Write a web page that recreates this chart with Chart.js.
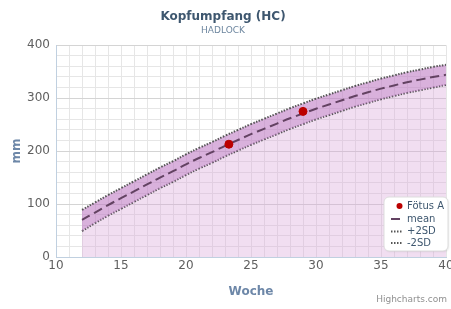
<!DOCTYPE html>
<html>
<head>
<meta charset="utf-8">
<script src="https://cdn.jsdelivr.net/npm/chart.js@4"></script>
<style>
  body { margin: 0; background: #fff; }
  #wrap { width: 451px; height: 309px; }
</style>
</head>
<body>
<div id="wrap"><canvas id="hc"></canvas></div>
<script>
// Hadlock head circumference, weeks 12-40
const weeks = [12, 13, 14, 15, 16, 17, 18, 19, 20, 21, 22, 23, 24, 25, 26, 27, 28, 29, 30, 31, 32, 33, 34, 35, 36, 37, 38, 39, 40];
const mean = [70, 84, 98, 111, 124, 137, 150, 162, 175, 187, 198, 210, 221, 232, 242, 252, 262, 271, 280, 288, 296, 304, 311, 318, 324, 330, 335, 340, 344];
const plus2sd = [89, 103, 117, 130, 143, 156, 169, 181, 194, 206, 217, 229, 240, 251, 261, 271, 281, 290, 299, 307, 315, 323, 330, 337, 343, 349, 354, 359, 363];
const minus2sd = [49, 64, 78, 91, 104, 117, 130, 142, 155, 167, 178, 190, 201, 212, 222, 232, 242, 251, 260, 268, 276, 284, 291, 298, 304, 310, 315, 320, 325];
const fetusWeeks = [23.3, 29];
const fetusHC = [213, 275];
const yTicks = [0, 100, 200, 300, 400];
const xTicks = [10, 15, 20, 25, 30, 35, 40];

const FONT = "'DejaVu Sans', Verdana, sans-serif";

function pairs(xs, ys) {
  return xs.map(function (x, i) { return { x: x, y: ys[i] }; });
}

// legend box drawn inside the plot, bottom right
const boxLegend = {
  id: "boxLegend",
  afterDraw(chart) {
    const ctx = chart.ctx;
    const x = 384, y = 197, w = 64, h = 54;
    ctx.save();
    ctx.shadowColor = "rgba(0,0,0,0.10)";
    ctx.shadowBlur = 2;
    ctx.shadowOffsetX = 1;
    ctx.shadowOffsetY = 1;
    ctx.fillStyle = "#ffffff";
    ctx.beginPath();
    ctx.roundRect(x, y, w, h, 5);
    ctx.fill();
    ctx.shadowColor = "transparent";
    ctx.strokeStyle = "#dddddd";
    ctx.lineWidth = 1;
    ctx.stroke();

    ctx.font = "10px " + FONT;
    ctx.textBaseline = "middle";
    const rows = [206, 219, 231.5, 243];
    chart.data.datasets.forEach(function (ds, i) {
      const ry = rows[i];
      if (i === 0) {
        ctx.fillStyle = ds.backgroundColor;
        ctx.beginPath();
        ctx.arc(399.5, ry, 3, 0, Math.PI * 2);
        ctx.fill();
      } else {
        ctx.strokeStyle = ds.borderColor;
        ctx.lineWidth = ds.borderWidth;
        ctx.setLineDash(ds.borderDash);
        ctx.beginPath();
        ctx.moveTo(391, ry);
        ctx.lineTo(402, ry);
        ctx.stroke();
        ctx.setLineDash([]);
      }
      ctx.fillStyle = "#3e576f";
      ctx.fillText(ds.label, 407, ry);
    });

    // credits
    ctx.font = "9px " + FONT;
    ctx.fillStyle = "#909090";
    ctx.textAlign = "right";
    ctx.fillText("Highcharts.com", 447, 300);
    ctx.restore();
  }
};

new Chart(document.getElementById("hc"), {
  type: "scatter",
  data: {
    datasets: [
      {
        label: "Fötus A",
        data: pairs(fetusWeeks, fetusHC),
        backgroundColor: "#bb0000",
        borderColor: "#bb0000",
        pointRadius: 4,
        order: 0,
      },
      {
        label: "mean",
        type: "line",
        data: pairs(weeks, mean),
        borderColor: "#634262",
        borderWidth: 2,
        borderDash: [9, 5],
        pointRadius: 0,
        fill: false,
        tension: 0.4,
        order: 1,
      },
      {
        label: "+2SD",
        type: "line",
        data: pairs(weeks, plus2sd),
        borderColor: "#555555",
        borderWidth: 2,
        borderDash: [1.5, 1.5],
        pointRadius: 0,
        fill: { target: 3 },
        backgroundColor: "rgba(190,120,195,0.58)",
        tension: 0.4,
        order: 2,
      },
      {
        label: "-2SD",
        type: "line",
        data: pairs(weeks, minus2sd),
        borderColor: "#555555",
        borderWidth: 2,
        borderDash: [1.5, 1.5],
        pointRadius: 0,
        fill: "origin",
        backgroundColor: "rgba(214,160,214,0.35)",
        tension: 0.4,
        order: 3,
      },
    ],
  },
  options: {
    responsive: true,
    maintainAspectRatio: false,
    animation: false,
    layout: { padding: { left: 0, right: 5, top: 0, bottom: 0 } },
    plugins: {
      legend: { display: false },
      tooltip: { enabled: false },
      title: {
        display: true,
        text: "Kopfumpfang (HC)",
        color: "#3e576f",
        font: { family: FONT, size: 12, weight: "bold" },
        padding: { top: 10, bottom: 0 },
      },
      subtitle: {
        display: true,
        text: "HADLOCK",
        color: "#6d869f",
        font: { family: FONT, size: 9 },
        padding: { top: 1, bottom: 9 },
      },
    },
    scales: {
      x: {
        type: "linear",
        min: 10,
        max: 40,
        ticks: {
          stepSize: 1,
          autoSkip: false,
          maxRotation: 0,
          color: "#606060",
          font: { family: FONT, size: 12 },
          padding: 2,
          callback: function (v) { return xTicks.includes(v) ? v : ""; },
        },
        grid: { color: "#e6e6e6", drawTicks: false },
        border: { color: "#c0d0e0" },
        title: {
          display: true,
          text: "Woche",
          color: "#6d87a8",
          font: { family: FONT, size: 12, weight: "bold" },
          padding: { top: 12, bottom: 10 },
        },
        afterFit: function (s) {
          s.height = 52;
          s.paddingLeft = 0;
          s.paddingRight = 0;
        },
      },
      y: {
        min: 0,
        max: 400,
        ticks: {
          stepSize: 20,
          autoSkip: false,
          color: "#606060",
          font: { family: FONT, size: 12 },
          padding: 6,
          callback: function (v) { return yTicks.includes(v) ? v : ""; },
        },
        grid: {
          drawTicks: false,
          color: function (c) { return c.tick && c.tick.value % 100 === 0 ? "#d4d4d4" : "#e6e6e6"; },
        },
        border: { color: "#c0d0e0" },
        title: {
          display: true,
          text: "mm",
          color: "#6d87a8",
          font: { family: FONT, size: 12, weight: "bold" },
          padding: { top: 10, bottom: 0 },
        },
        afterFit: function (s) {
          s.width = 56;
          s.paddingTop = 0;
          s.paddingBottom = 0;
        },
      },
    },
  },
  plugins: [boxLegend],
});
</script>
</body>
</html>
